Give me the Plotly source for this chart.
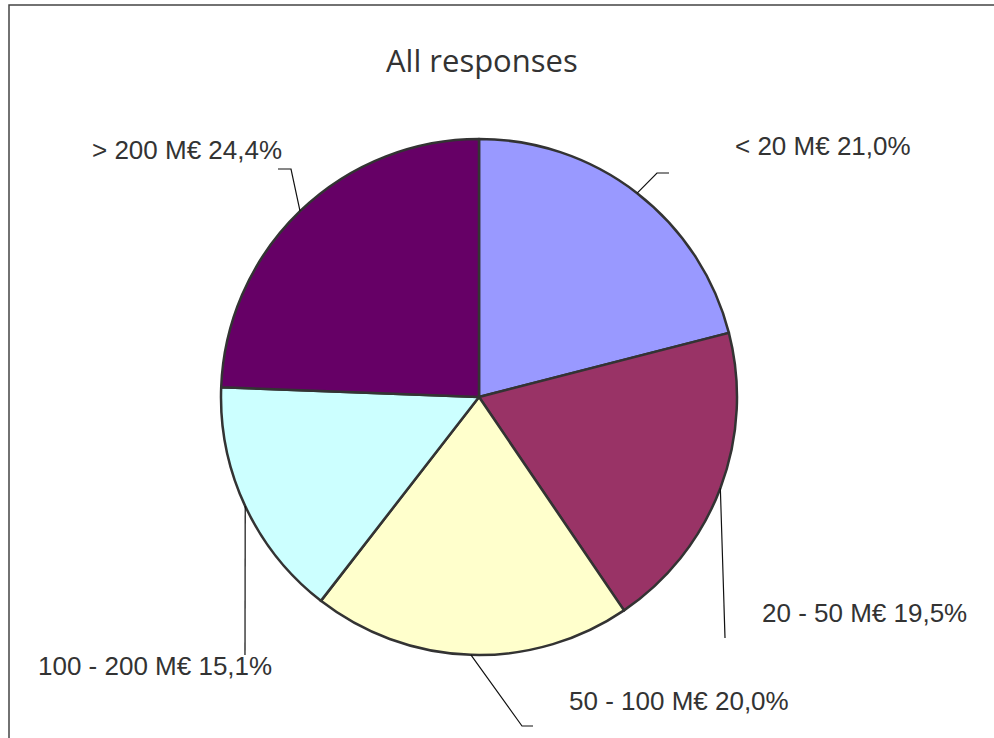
import math
import plotly.graph_objects as go

# Turnover bands and their share of all responses (%)
categories = ["< 20 M€", "20 - 50 M€", "50 - 100 M€", "100 - 200 M€", "> 200 M€"]
shares = [21.0, 19.5, 20.0, 15.1, 24.4]

# Styling
colors = ["#9999FF", "#993366", "#FFFFCC", "#CCFFFF", "#660066"]
W, H = 994, 738
CX, CY, R = 479, 397, 258          # pie centre and radius in pixels
TEXT_COLOR = "#333333"
LABEL_FONT = dict(family="Liberation Sans, Arial, sans-serif", size=26, color=TEXT_COLOR)

# Label placement (text left edge / vertical middle) and leader-line elbows, in pixels
label_pos = [(733, 146), (760, 613), (567, 701), (36, 666), (90, 150)]
leader_elbows = [
    [(657, 173), (669, 173)],
    [(725, 638)],
    [(522, 726), (533, 726)],
    [(245, 655)],
    [(291, 169), (278, 169)],
]


def px(x):
    return x / W


def py(y):
    return 1 - y / H


fig = go.Figure()
fig.add_trace(go.Pie(
    labels=categories,
    values=shares,
    sort=False,
    direction="clockwise",
    rotation=0,
    marker=dict(colors=colors, line=dict(color="#333333", width=2.5)),
    textinfo="none",
    hoverinfo="skip",
    showlegend=False,
    domain=dict(x=[px(CX - R), px(CX + R)], y=[py(CY + R), py(CY - R)]),
))

shapes = []
annotations = []
total = sum(shares)
cum = 0.0
for i, (cat, val) in enumerate(zip(categories, shares)):
    mid = (cum + val / 2) / total * 2 * math.pi
    cum += val
    # leader line from slice mid-point on the rim to its label
    pts = [(CX + R * math.sin(mid), CY - R * math.cos(mid))] + leader_elbows[i]
    path = "M " + " L ".join(f"{px(x):.5f},{py(y):.5f}" for x, y in pts)
    shapes.append(dict(type="path", xref="paper", yref="paper", path=path,
                       line=dict(color="#111111", width=1.2)))
    lx, ly = label_pos[i]
    annotations.append(dict(
        xref="paper", yref="paper", x=px(lx), y=py(ly),
        xanchor="left", yanchor="middle", showarrow=False,
        text=f"{cat} {val:.1f}%".replace(".", ","),
        font=LABEL_FONT,
    ))

# chart frame
shapes.append(dict(type="rect", xref="paper", yref="paper",
                   x0=px(9), x1=1.02, y0=-0.02, y1=py(5),
                   line=dict(color="#444444", width=1.5)))

annotations.append(dict(
    xref="paper", yref="paper", x=px(482), y=py(60),
    xanchor="center", yanchor="middle", showarrow=False,
    text="All responses",
    font=dict(family="Open Sans, sans-serif", size=31, color=TEXT_COLOR),
))

fig.update_layout(
    width=W, height=H,
    margin=dict(l=0, r=0, t=0, b=0),
    paper_bgcolor="white", plot_bgcolor="white",
    shapes=shapes, annotations=annotations,
)

fig.write_html("out.html")
